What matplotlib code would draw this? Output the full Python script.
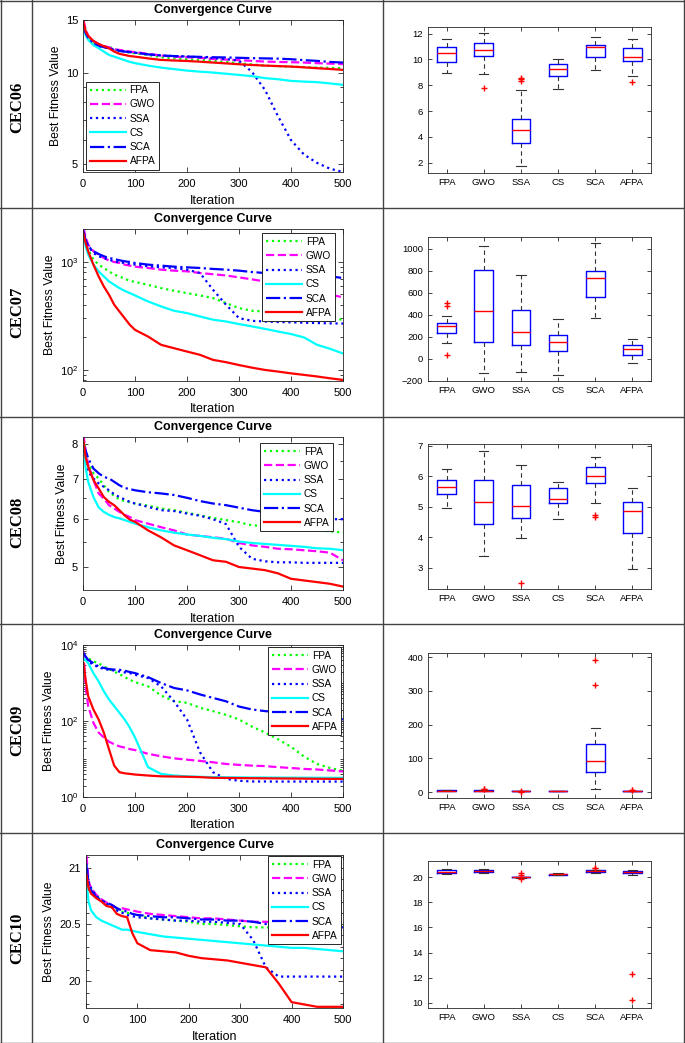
import matplotlib
matplotlib.use('Agg')
import matplotlib.pyplot as plt
from matplotlib.ticker import FixedLocator, FixedFormatter, NullFormatter, LogLocator, MultipleLocator

plt.rcParams['font.family'] = ['Liberation Sans', 'DejaVu Sans']
plt.rcParams['mathtext.fontset'] = 'custom'
plt.rcParams['mathtext.rm'] = 'Liberation Sans'
plt.rcParams['mathtext.it'] = 'Liberation Sans:italic'
plt.rcParams['axes.linewidth'] = 0.6
plt.rcParams['axes.edgecolor'] = '#262626'

# ---------------- data ----------------
names = ['FPA', 'GWO', 'SSA', 'CS', 'SCA', 'AFPA']
rows = ['CEC06', 'CEC07', 'CEC08', 'CEC09', 'CEC10']
iters = [1, 5, 10, 20, 30, 40, 50, 60, 70, 80, 90, 100, 125, 150, 175, 200,
         225, 250, 275, 300, 325, 350, 375, 400, 425, 450, 475, 500]

# CEC06 convergence
fpa06 = [14.9, 13.9, 13.2, 12.7, 12.45, 12.3, 12.25, 12.0, 11.9, 11.8, 11.7, 11.65, 11.5, 11.3,
         11.2, 11.13, 11.07, 10.99, 10.9, 10.79, 10.7, 10.6, 10.55, 10.52, 10.48, 10.44, 10.42, 10.39]
gwo06 = [15.0, 14.0, 13.3, 12.8, 12.5, 12.3, 12.2, 12.0, 11.95, 11.9, 11.8, 11.75, 11.6, 11.45,
         11.35, 11.3, 11.25, 11.15, 11.1, 11.05, 10.99, 10.93, 10.9, 10.88, 10.85, 10.8, 10.76, 10.72]
ssa06 = [14.6, 13.6, 13.0, 12.5, 12.3, 12.2, 12.1, 12.0, 11.9, 11.8, 11.75, 11.7, 11.55, 11.45,
         11.4, 11.36, 11.3, 11.22, 11.15, 11.0, 10.1, 8.8, 7.2, 6.0, 5.37, 5.04, 4.82, 4.7]
cs06 = [14.3, 13.4, 12.9, 12.4, 12.1, 11.8, 11.5, 11.35, 11.2, 11.05, 10.9, 10.8, 10.6, 10.44,
        10.32, 10.2, 10.12, 10.05, 9.96, 9.87, 9.78, 9.63, 9.55, 9.43, 9.38, 9.34, 9.25, 9.15]
sca06 = [14.5, 13.6, 13.1, 12.6, 12.35, 12.2, 12.1, 11.95, 11.85, 11.8, 11.75, 11.7, 11.55, 11.45,
         11.4, 11.36, 11.33, 11.3, 11.28, 11.25, 11.22, 11.2, 11.18, 11.13, 11.05, 10.99, 10.9, 10.85]
afpa06 = [14.8, 13.8, 13.3, 12.8, 12.5, 12.3, 12.1, 11.8, 11.6, 11.5, 11.4, 11.35, 11.2, 11.07,
          11.02, 10.98, 10.92, 10.85, 10.78, 10.71, 10.65, 10.6, 10.56, 10.52, 10.46, 10.39, 10.33, 10.26]

# CEC07 convergence
fpa07 = [2000, 1500, 1300, 1050, 945, 880, 819, 763, 736, 700, 670, 652, 615, 573,
         541, 515, 490, 463, 416, 374, 353, 348, 340, 330, 320, 310, 300, 292]
gwo07 = [2070, 1700, 1449, 1256, 1170, 1089, 1030, 1000, 979, 945, 925, 905, 880, 849,
         831, 819, 790, 770, 750, 720, 690, 660, 620, 590, 560, 530, 500, 470]
ssa07 = [1860, 1550, 1400, 1212, 1130, 1089, 1050, 1014, 993, 979, 958, 945, 912, 892,
         880, 849, 790, 553, 402, 302, 285, 281, 278, 276, 274, 272, 270, 269]
cs07 = [1790, 1400, 1170, 945, 819, 736, 661, 615, 573, 541, 515, 490, 431, 388,
        353, 336, 313, 292, 281, 266, 253, 240, 227, 215, 200, 171, 157, 142]
sca07 = [1928, 1600, 1400, 1256, 1186, 1130, 1089, 1065, 1037, 1014, 1000, 979, 945, 925,
         905, 892, 880, 862, 849, 831, 807, 790, 778, 773, 763, 752, 736, 710]
afpa07 = [1830, 1500, 1256, 945, 736, 594, 497, 402, 348, 302, 262, 235, 204, 171,
          159, 148, 138, 124, 118, 111, 105, 100, 96.6, 93, 90, 87, 83.7, 80.8]

# CEC08 convergence
fpa08 = [8.17, 7.7, 7.42, 7.15, 7.01, 6.83, 6.66, 6.56, 6.47, 6.43, 6.4, 6.37, 6.32, 6.25,
         6.21, 6.15, 6.09, 6.03, 5.98, 5.93, 5.86, 5.85, 5.82, 5.8, 5.77, 5.75, 5.73, 5.7]
gwo08 = [8.27, 7.8, 7.38, 6.97, 6.62, 6.49, 6.33, 6.25, 6.17, 6.1, 6.05, 5.98, 5.9, 5.82,
         5.75, 5.66, 5.63, 5.6, 5.57, 5.48, 5.43, 5.4, 5.36, 5.35, 5.33, 5.31, 5.28, 5.13]
ssa08 = [7.96, 7.5, 7.19, 7.01, 6.88, 6.79, 6.7, 6.6, 6.53, 6.47, 6.41, 6.37, 6.29, 6.21,
         6.19, 6.13, 6.08, 6.0, 5.89, 5.4, 5.16, 5.11, 5.09, 5.09, 5.08, 5.08, 5.08, 5.08]
cs08 = [8.06, 7.3, 6.92, 6.53, 6.28, 6.17, 6.1, 6.05, 6.02, 5.98, 5.94, 5.9, 5.82, 5.75,
        5.7, 5.66, 5.63, 5.59, 5.56, 5.51, 5.48, 5.46, 5.44, 5.42, 5.4, 5.37, 5.36, 5.33]
sca08 = [8.0, 7.8, 7.57, 7.28, 7.15, 7.05, 7.01, 6.92, 6.83, 6.76, 6.73, 6.7, 6.65, 6.62,
         6.58, 6.51, 6.43, 6.37, 6.33, 6.27, 6.21, 6.17, 6.1, 6.05, 6.02, 6.0, 6.0, 6.0]
afpa08 = [8.1, 7.6, 7.33, 6.97, 6.75, 6.53, 6.41, 6.33, 6.21, 6.09, 5.99, 5.94, 5.75, 5.6,
          5.43, 5.33, 5.23, 5.13, 5.1, 5.0, 4.97, 4.94, 4.88, 4.78, 4.75, 4.72, 4.69, 4.64]

# CEC09 convergence
fpa09 = [4970, 4700, 4480, 3700, 3330, 2720, 2320, 2000, 1720, 1430, 1220, 1050, 819, 470,
         333, 301, 223, 182, 145, 110, 71, 49.7, 33, 21, 11.6, 7.4, 5.8, 4.9]
gwo09 = [6700, 819, 246, 90, 49.7, 37, 28.5, 24.5, 21.5, 20, 18.2, 17.2, 13.7, 11.8,
         10.4, 9.6, 8.9, 8.19, 7.4, 7.0, 6.7, 6.5, 6.1, 5.8, 5.48, 5.3, 5.0, 4.7]
ssa09 = [6070, 4500, 3700, 3000, 2620, 2320, 2230, 2130, 2000, 1900, 1820, 1650, 1350, 819,
         330, 110, 15, 4.5, 3.0, 2.67, 2.56, 2.56, 2.55, 2.55, 2.55, 2.55, 2.55, 2.55]
cs09 = [4480, 4000, 3330, 1820, 1100, 607, 367, 246, 165, 110, 67, 37, 6.1, 4.06,
        3.67, 3.5, 3.4, 3.33, 3.3, 3.28, 3.26, 3.25, 3.24, 3.23, 3.22, 3.21, 3.2, 3.2]
sca09 = [6070, 5000, 4060, 3330, 2720, 2500, 2320, 2250, 2230, 2100, 1950, 1820, 1430, 1000,
         740, 640, 500, 405, 330, 240, 201, 182, 172, 162, 153, 141, 128, 110]
afpa09 = [3330, 1220, 449, 201, 110, 49.7, 18, 6.7, 4.5, 4.2, 4.06, 3.9, 3.67, 3.5,
          3.45, 3.4, 3.33, 3.2, 3.18, 3.15, 3.12, 3.1, 3.08, 3.06, 3.04, 3.02, 3.0, 3.0]

# CEC10 convergence
fpa10 = [20.99, 20.85, 20.8, 20.76, 20.71, 20.68, 20.65, 20.63, 20.61, 20.6, 20.59, 20.58, 20.55, 20.54,
         20.53, 20.52, 20.5, 20.5, 20.49, 20.48, 20.47, 20.47, 20.47, 20.47, 20.46, 20.46, 20.45, 20.43]
gwo10 = [21.11, 20.88, 20.82, 20.76, 20.72, 20.69, 20.67, 20.64, 20.64, 20.63, 20.62, 20.61, 20.59, 20.58,
         20.57, 20.56, 20.55, 20.55, 20.54, 20.53, 20.52, 20.52, 20.51, 20.51, 20.51, 20.5, 20.5, 20.49]
ssa10 = [21.04, 20.88, 20.82, 20.75, 20.71, 20.68, 20.65, 20.62, 20.6, 20.58, 20.57, 20.56, 20.55, 20.54,
         20.53, 20.53, 20.52, 20.52, 20.51, 20.5, 20.36, 20.12, 20.04, 20.04, 20.04, 20.04, 20.04, 20.04]
cs10 = [20.88, 20.7, 20.62, 20.56, 20.53, 20.51, 20.49, 20.47, 20.45, 20.45, 20.44, 20.43, 20.41, 20.39,
        20.38, 20.37, 20.36, 20.35, 20.34, 20.33, 20.32, 20.31, 20.3, 20.29, 20.29, 20.28, 20.27, 20.26]
sca10 = [21.02, 20.86, 20.8, 20.74, 20.71, 20.69, 20.67, 20.64, 20.62, 20.61, 20.59, 20.58, 20.57, 20.56,
         20.56, 20.55, 20.54, 20.54, 20.53, 20.53, 20.52, 20.5, 20.5, 20.5, 20.5, 20.49, 20.49, 20.47]
afpa10 = [20.94, 20.82, 20.77, 20.73, 20.7, 20.66, 20.65, 20.59, 20.57, 20.56, 20.42, 20.33, 20.27, 20.26,
          20.25, 20.22, 20.2, 20.19, 20.18, 20.16, 20.14, 20.12, 19.98, 19.82, 19.8, 19.78, 19.78, 19.78]

conv = [[fpa06, gwo06, ssa06, cs06, sca06, afpa06],
        [fpa07, gwo07, ssa07, cs07, sca07, afpa07],
        [fpa08, gwo08, ssa08, cs08, sca08, afpa08],
        [fpa09, gwo09, ssa09, cs09, sca09, afpa09],
        [fpa10, gwo10, ssa10, cs10, sca10, afpa10]]

# boxplot statistics (FPA, GWO, SSA, CS, SCA, AFPA)
med06 = [10.49, 10.70, 4.49, 9.25, 10.96, 10.23]
q1_06 = [9.79, 10.26, 3.50, 8.73, 10.23, 9.90]
q3_06 = [10.94, 11.27, 5.38, 9.64, 11.14, 10.91]
lo06 = [8.94, 8.90, 1.74, 7.69, 9.17, 8.68]
hi06 = [11.58, 12.03, 7.64, 10.05, 11.77, 11.58]
out06 = [[], [7.77], [8.55, 8.45, 8.30], [], [], [8.23]]

med07 = [297, 430, 245, 155, 733, 88]
q1_07 = [236, 155, 124, 70, 561, 36]
q3_07 = [327, 809, 442, 218, 794, 124]
lo07 = [145, -130, -121, -145, 367, -42]
hi07 = [391, 1021, 758, 364, 1051, 182]
out07 = [[505, 480, 30], [], [], [], [], []]

med08 = [5.66, 5.15, 5.04, 5.27, 6.00, 4.86]
q1_08 = [5.41, 4.43, 4.62, 5.12, 5.77, 4.13]
q3_08 = [5.87, 5.87, 5.70, 5.62, 6.30, 5.16]
lo08 = [4.95, 3.40, 3.98, 4.59, 5.12, 2.95]
hi08 = [6.23, 6.81, 6.38, 5.80, 6.62, 5.61]
out08 = [[], [], [2.50], [], [4.72, 4.68], []]

med09 = [5.0, 4.5, 2.6, 3.1, 91, 3.2]
q1_09 = [4.6, 3.8, 2.5, 3.0, 60, 2.9]
q3_09 = [5.4, 5.5, 2.7, 3.2, 144, 3.5]
lo09 = [4.0, 3.0, 2.4, 2.9, 11, 2.7]
hi09 = [6.0, 7.0, 2.9, 3.4, 190, 3.9]
out09 = [[], [8.5, 9.5], [3.5, 1.8], [], [391, 316], [6.0, 5.5]]

med10 = [20.45, 20.53, 20.02, 20.26, 20.50, 20.42]
q1_10 = [20.37, 20.45, 20.00, 20.22, 20.45, 20.33]
q3_10 = [20.56, 20.61, 20.05, 20.30, 20.56, 20.50]
lo10 = [20.24, 20.32, 19.98, 20.18, 20.38, 20.22]
hi10 = [20.64, 20.67, 20.07, 20.33, 20.62, 20.60]
out10 = [[], [], [20.32, 20.2, 19.9], [], [20.72, 20.78], [12.25, 10.17]]

boxes = [(med06, q1_06, q3_06, lo06, hi06, out06),
         (med07, q1_07, q3_07, lo07, hi07, out07),
         (med08, q1_08, q3_08, lo08, hi08, out08),
         (med09, q1_09, q3_09, lo09, hi09, out09),
         (med10, q1_10, q3_10, lo10, hi10, out10)]

# ---------------- layout (pixels) ----------------
W, H = 685.0, 1043.0
fig = plt.figure(figsize=(6.85, 10.43), dpi=100)


def rect(l, t, r, b):
    return [l / W, 1 - b / H, (r - l) / W, (b - t) / H]


conv_box = [(83, 20, 343, 172), (83, 229, 343, 381), (83, 437, 343, 590),
            (83, 645, 343, 797), (86, 855, 343, 1008)]
bp_box = [(428, 27, 651, 173), (428, 237, 651, 381), (428, 444, 651, 589),
          (428, 653, 651, 798), (428, 861, 651, 1008)]

line_col = ['#00ff00', '#ff00ff', '#0000ff', '#00ffff', '#0000ff', '#ff0000']
line_sty = [':', '--', ':', '-', '-.', '-']

conv_ylim = [(4.7, 15.02), (79, 2020), (4.58, 8.21), (1, 1e4), (19.77, 21.12)]
conv_yt = [[5, 10, 15], [100, 1000], [5, 6, 7, 8], [1, 100, 10000], [20, 20.5, 21]]
conv_ytl = [['5', '10', '15'], ['$10^2$', '$10^3$'], ['5', '6', '7', '8'],
            ['$10^0$', '$10^2$', '$10^4$'], ['20', '20.5', '21']]
# legend: (location, x offset px, y offset px)
leg_pos = [('lower left', 3, 2), ('upper right', 8, 4), ('upper right', 10, 6),
           ('upper right', 2, 2), ('upper right', 2, 1)]

bp_ylim = [(1.19, 12.52), (-203, 1106), (2.31, 7.055), (-17, 412), (9.57, 21.31)]
bp_yt = [range(2, 13, 2), range(-200, 1001, 200), range(3, 8), range(0, 401, 100), range(10, 21, 2)]

for r in range(5):
    # convergence curves
    l, t, rr, b = conv_box[r]
    ax = fig.add_axes(rect(l, t, rr, b))
    for k in range(6):
        ax.plot(iters, conv[r][k], color=line_col[k], linestyle=line_sty[k], lw=1.6, label=names[k])
    ax.set_yscale('log')
    ax.set_xlim(0, 500)
    ax.set_ylim(*conv_ylim[r])
    ax.set_xticks(range(0, 501, 100))
    ax.yaxis.set_major_locator(FixedLocator(conv_yt[r]))
    ax.yaxis.set_major_formatter(FixedFormatter(conv_ytl[r]))
    if r == 4:
        ax.yaxis.set_minor_locator(MultipleLocator(0.1))
    elif r == 2:
        ax.yaxis.set_minor_locator(MultipleLocator(0.5))
    elif r == 3:
        ax.yaxis.set_minor_locator(LogLocator(base=10, subs=range(1, 10), numticks=30))
    else:
        ax.yaxis.set_minor_locator(LogLocator(base=10, subs=range(2, 10), numticks=30))
    ax.yaxis.set_minor_formatter(NullFormatter())
    ax.tick_params(which='both', direction='in', top=True, right=True, labelsize=8,
                   colors='#262626', labelcolor='black', width=0.6)
    ax.tick_params(which='major', length=3.5, pad=3.5)
    ax.tick_params(axis='x', which='major', pad=5)
    ax.tick_params(which='minor', length=2)
    ax.set_title('Convergence Curve', fontsize=9, fontweight='bold', pad=4.8)
    ax.set_xlabel('Iteration', fontsize=9, labelpad=4)
    ax.set_ylabel('Best Fitness Value', fontsize=8.7, labelpad=3)
    loc, dx, dy = leg_pos[r]
    if loc == 'lower left':
        anchor = (dx / (rr - l), dy / (b - t))
    else:
        anchor = (1 - dx / (rr - l), 1 - dy / (b - t))
    leg = ax.legend(loc=loc, bbox_to_anchor=anchor, borderaxespad=0, fontsize=7.3,
                    handlelength=3.6, handletextpad=0.35, labelspacing=0.42, borderpad=0.35,
                    fancybox=False, framealpha=1, edgecolor='#262626')
    leg.get_frame().set_linewidth(0.7)

    # boxplots
    l, t, rr, b = bp_box[r]
    bx = fig.add_axes(rect(l, t, rr, b))
    med, q1, q3, lo, hi, out = boxes[r]
    stats = []
    for k in range(6):
        stats.append({'med': med[k], 'q1': q1[k], 'q3': q3[k], 'whislo': lo[k],
                      'whishi': hi[k], 'fliers': out[k], 'label': names[k]})
    bx.bxp(stats, positions=range(1, 7), widths=0.5, capwidths=0.25,
           boxprops=dict(color='#0000ff', lw=1),
           medianprops=dict(color='#ff0000', lw=1),
           whiskerprops=dict(color='#333333', lw=0.8, linestyle=(0, (4, 3))),
           capprops=dict(color='#333333', lw=0.8),
           flierprops=dict(marker='+', markeredgecolor='#ff0000', markersize=5, mew=1, linestyle='none'))
    bx.set_xlim(0.5, 6.5)
    bx.set_ylim(*bp_ylim[r])
    bx.set_yticks(list(bp_yt[r]))
    bx.tick_params(which='both', direction='in', top=True, right=True, labelsize=6.8,
                   colors='#262626', labelcolor='black', width=0.6, length=3, pad=3.5)

# table grid and row labels
ov = fig.add_axes([0, 0, 1, 1], zorder=-1)
ov.set_xlim(0, W)
ov.set_ylim(H, 0)
ov.axis('off')
grid_c = '#444444'
for x in [0.5, 32, 383, 684.5]:
    ov.plot([x, x], [0, H], color=grid_c, lw=1)
for y in [0.5, 208, 416.5, 624, 833, 1042.5]:
    ov.plot([0, W], [y, y], color=grid_c, lw=1)
label_y = [107, 312, 522, 730, 938]
for r in range(5):
    ov.text(17, label_y[r], rows[r], rotation=90, ha='center', va='center', fontsize=12,
            fontweight='bold', family=['Liberation Serif', 'DejaVu Serif'])

fig.savefig('out.png', dpi=100)
